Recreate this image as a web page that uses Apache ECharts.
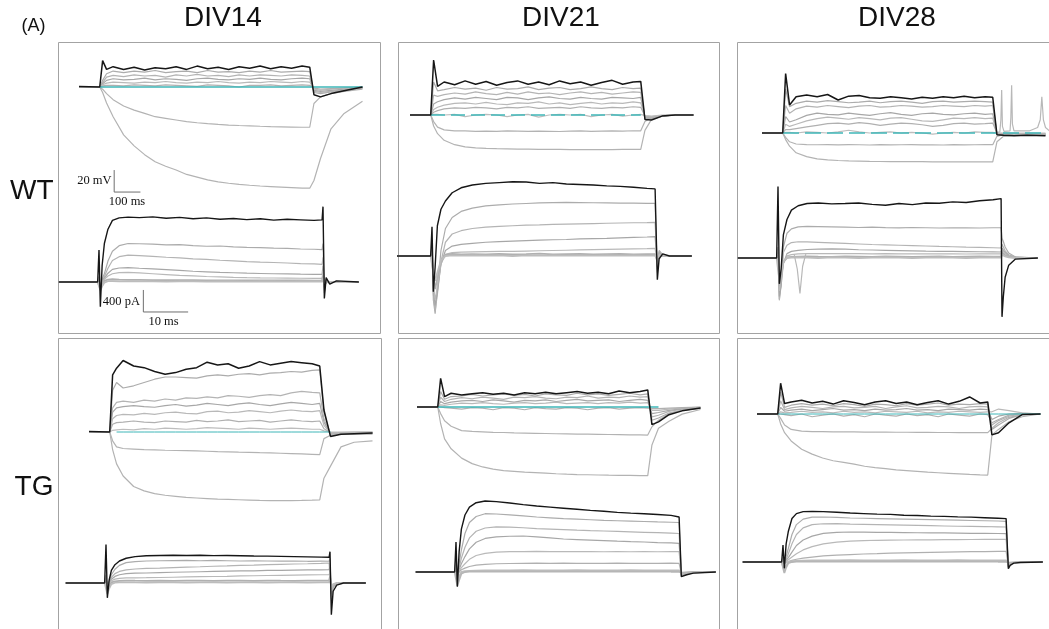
<!DOCTYPE html>
<html><head><meta charset="utf-8">
<script src="https://cdn.jsdelivr.net/npm/echarts@6/dist/echarts.min.js"></script>
<style>html,body{margin:0;padding:0;background:#fff}#c{width:1049px;height:629px}</style>
</head><body><div id="c"></div>
<script>
// ---------- time bases ----------
const V_TIME_MS = [-80,-1,0, 10,25,50,90,130,170,210,250,290,330,370,410,450,490,530,570,610,650,690,730,770,799,800, 815,840,880,930,1000];
const I_TIME_MS = [-9,-0.3,0, 0.3,0.7,1.2,2,3,4.5,6.5,9,12,15,18,21,24,27,30,33,36,39,42,45,48,49.8, 50,50.3,50.7,51.5,53,58];

// ---------- labels ----------
const COLUMN_LABELS = ['DIV14','DIV21','DIV28'];
const ROW_LABELS = ['WT','TG'];
const PANEL_LABEL = '(A)';
const SCALE_V = [20, 100];   // mV, ms
const SCALE_I = [400, 10];   // pA, ms

// ---------- WT DIV14 (mV relative to rest) ----------
const WT14_V_BLACK = [0.5,0,0, 24,16,18.5,16,18,15.5,17.5,16.5,18.5,16,19,16.5,18,16,18.5,17,19,16.5,18.5,17,19,18,18, -7,-9,-6,-3.5,0];
const WT14_V_GREY = [
 [0,0,0, 6,12,14.5,13,14.5,13.5,15,13,14,14.5,13,15,13.5,14,13,14.5,13.5,15,13.5,14,14.5,14,14, -5,-6,-4.5,-3,-1],
 [0,0,0, 4,9,10.5,9.5,11,10,10.5,9,11,10,11.5,10,10.5,9.5,11,10,11,10.5,10,11,10.5,10,10, -4,-5,-4,-2.5,-1],
 [0,0,0, 3,6,7.5,6.5,7,8,6.5,7.5,7,6,7.5,8,7,6.5,7.5,7,8,7,6.5,7.5,8,7.5,7.5, -3,-4,-3,-2,-0.5],
 [0,0,0, 2,3.5,4.5,4,3.5,4.5,4,5,4,3.5,4.5,4,5,4,3.5,4.5,4,5,4.5,4,5,4.5,4.5, -2,-3,-2,-1,0],
 [0,0,0, 1,1.5,1.5,1,2,1.5,1,2,1.5,1,0.5,2,1.5,1,0,1.5,1.5,2,1,1.5,2,1.5,1.5, -1,-2,-1.5,-1,0]
];
const WT14_V_HYP = [
 [0,0,0, -2,-6,-11.5,-17.3,-21,-24,-27,-28.5,-30,-31.5,-32.5,-33.3,-34,-34.6,-35,-35.3,-35.7,-36,-36.2,-36.4,-36.6,-36.6,-36.6, -15,-9,-6,-4,-2],
 [0,0,0, -5,-14.5,-27,-43.5,-53.5,-61.5,-68,-72,-75.5,-79.5,-82,-84.5,-86.2,-87.5,-88.5,-89.3,-90,-90.5,-91,-91.5,-92,-92,-92, -85,-65,-38,-24,-13]
];
const WT14_V_CYAN = [null,null,0, 0,0,0,0,0,0,0,0,0,0,0,0,0,0,0,0,0,0,0,0,0,0,0, 0,0,0,0,0];
const WT14_I_BLACK = [0,0,580, -450,300,700,960,1120,1165,1180,1170,1185,1160,1175,1150,1165,1140,1155,1135,1150,1125,1140,1130,1120,1130, 1370,-300,80,-40,20,0];
const WT14_I_GREY = [
 [0,0,100, -150,50,150,380,560,660,700,695,690,675,680,660,650,655,640,630,625,615,610,600,595,590, 700,-200,50,-20,10,0],
 [0,0,80, -120,30,100,250,390,460,490,480,465,450,440,420,410,395,385,370,360,355,345,335,330,322, 450,-150,30,-10,5,0],
 [0,0,60, -100,20,70,160,230,255,260,250,240,225,210,195,185,175,168,160,155,150,147,143,140,140, 300,-120,20,-10,0,0],
 [0,0,40, -80,10,50,110,150,170,175,165,150,135,120,110,100,92,85,80,76,73,70,68,67,67, 200,-100,10,-5,0,0],
 [0,0,20, -120,-60,20,45,50,45,40,38,35,35,33,32,30,30,28,30,28,27,28,27,26,26, 100,-80,0,0,0,0],
 [0,0,10, -150,-80,-10,15,15,12,10,12,10,8,12,10,8,10,9,8,10,9,8,10,9,9, 60,-60,0,0,0,0]
];

// ---------- WT DIV21 ----------
const WT21_V_BLACK = [0,0,0, 50,26,30,27.5,31,28,30.5,27,29.5,31,28,30,27.5,31,28.5,30,27,29.5,31.5,28,30,30.5,30.5, -4,-4.5,-1,0,0];
const WT21_V_GREY = [
 [0,0,0, 30,22,23,25,23.5,24.5,22.5,25,23.5,24,25.5,23,24.5,25,23,24,25.5,24,23,25,24,24.5,24.5, -3,-3.5,-1,0,0],
 [0,0,0, 18,17,18.5,20,19,21,19.5,18.5,20.5,19,21,19.5,20,18.5,20,21,19.5,20.5,19,20,21,20.5,20.5, -2.5,-3,-1,0,0],
 [0,0,0, 10,12,14,15.5,14.5,16,15,14,16,15.5,14,15.5,16.5,15,14.5,16,15,14.5,16,15.5,15,16,16, -2,-2.5,-1,0,0],
 [0,0,0, 5,7,9,10.5,11,10,11.5,10,9.5,11,10.5,12,10,11,9.5,10.5,11.5,10,11,10.5,12,11,11, -1.5,-2,-0.5,0,0],
 [0,0,0, 2.5,4,5.5,6.5,6,7,6.5,5.5,7,6.5,7.5,6,6.5,7,6,7.5,6.5,6,7,6.5,7.5,7,7, -1,-1.5,-0.5,0,0],
 [0,0,0, 0.5,0.5,0,0.5,-1.5,0,0.5,0,-1.5,0,0.5,-2,0,0.5,0,0.5,-1.5,0,0.5,-1,0,0.5,0.5, -0.5,-1,0,0,0]
];
const WT21_V_HYP = [
 [0,0,0, -6,-11,-13.5,-14.5,-14.5,-14.8,-14.6,-14.8,-14.5,-14.7,-14.9,-14.6,-14.8,-15,-14.7,-14.5,-14.8,-14.6,-14.4,-14.6,-14.3,-14.4,-14.4, -6,-2,-0.5,0,0],
 [0,0,0, -10,-17,-23,-27,-29,-29.8,-30.3,-30.6,-30.8,-31,-31.1,-31.2,-31.3,-31.3,-31.4,-31.4,-31.4,-31.5,-31.4,-31.3,-31.2,-31.2,-31.2, -14,-4,-1,0,0]
];
const WT21_V_CYAN = [null,null,0, 0,0,0,0,0,0,0,0,0,0,0,0,0,0,0,0,0,0,0,0,0,0,0, null,null,null,null,null];
const WT21_I_BLACK = [0,0,530, -650,-200,550,850,1000,1150,1240,1290,1320,1335,1350,1345,1320,1335,1310,1300,1290,1275,1265,1250,1230,1220, 1220,-430,-50,40,0,0];
const WT21_I_GREY = [
 [0,0,200, -800,-1050,-600,100,500,700,810,870,910,930,945,955,965,970,975,972,968,965,962,960,958,956, 956,-300,100,20,0,0],
 [0,0,150, -700,-1000,-700,-100,250,400,460,500,525,540,550,560,565,575,580,585,590,595,600,605,608,611, 611,-250,80,15,0,0],
 [0,0,100, -600,-900,-650,-150,100,180,210,230,250,260,270,280,290,295,300,310,315,320,330,340,345,351, 351,-200,60,10,0,0],
 [0,0,80, -500,-800,-550,-150,30,60,70,75,80,85,85,90,95,100,105,110,115,120,125,130,135,140, 140,-150,40,5,0,0],
 [0,0,50, -400,-600,-400,-100,20,40,30,35,30,40,30,35,45,30,35,40,30,35,40,30,35,35, 35,-100,30,0,0,0],
 [0,0,30, -300,-450,-300,-80,0,10,5,10,5,10,0,10,5,10,5,10,5,10,5,10,5,10, 10,-60,20,0,0,0]
];

// ---------- WT DIV28 ----------
const WT28_V_BLACK = [0,0,0, 54,25.5,33,34.5,33,35,30,33.5,34,32,31.5,33,32,31,32.5,31.5,33,32,33.5,32,33,32.5,32.5, -1.5,-2,-2.5,-2,-2.5];
const WT28_V_GREY = [
 [0,0,0, 40,24,27,29,28,29.5,28.5,27.5,28,29,27.5,28.5,29,28,27,28.5,29,28,28.5,29,28.5,28,28, -1,-1.5,-1.5,-1.5,-2],
 [0,0,0, 25,18,22,24.5,23.5,25,24,23,24.5,25,23.5,24,25,24.5,23.5,24,25,24.5,24,25,24.5,25,25, -1,-1.5,-1,-1.5,-1.5],
 [0,0,0, 15,10,12,16,18,17,16.5,18,17,16,17.5,18.5,17,16,17.5,18,17,16.5,17.5,18,17,17.5,17.5, -1,-1,-1,-1,-1],
 [0,0,0, 8,6,8,11,13,14.5,13.5,12.5,14,13,12,13.5,14,12.5,11,10.5,12,13.5,13,14,13,13.5,13.5, -0.5,-1,-1,-1,-1],
 [0,0,0, 3,3,4,5.5,7,8.5,9,8,9.5,8.5,7,8,9,8.5,7.5,6,7,8.5,9,8,8.5,9,9, 0,-0.5,-0.5,-0.5,-0.5],
 [0,0,0, 0.5,0.5,0,1,0.5,0,1,2.5,1,0,0.5,1,0,0.5,0,-1,0,0.5,0,1,0.5,0.5,0.5, 0,0,0,0,0]
];
const WT28_V_HYP = [
 [0,0,0, -4,-8,-10,-10.5,-10.7,-10.6,-10.8,-10.6,-10.7,-10.9,-10.6,-10.8,-10.7,-10.5,-10.8,-10.7,-10.9,-10.6,-10.8,-10.7,-10.5,-10.6,-10.6, -3,-1.5,-1.5,-1.5,-1.5],
 [0,0,0, -6,-12,-18,-21.5,-23.5,-24.5,-25,-25.4,-25.6,-25.8,-25.9,-26,-26,-26.1,-26.1,-26.2,-26.2,-26.2,-26.3,-26.3,-26.3,-26.3,-26.3, -8,-3,-2,-1.5,-1.5]
];
const WT28_V_CYAN = [null,null,0, 0,0,0,0,0,0,0,0,0,0,0,0,0,0,0,0,0,0,0,0,0,0,0, 0,0,0,0,0];
const WT28_V_SPIKES_T = [800,826,830,833,836,842,865,868,871,874,880,940,970,980,986,992,1000,1015];
const WT28_V_SPIKES = [0,1,12,39,6,1.5,2,14,43.5,8,2,2,5,12,33,12,5,2];
const WT28_I_BLACK = [0,0,1300, -470,-200,420,700,870,950,990,1000,985,990,1000,975,960,990,970,1000,995,1020,1010,1040,1060,1080, -1070,-700,-350,-130,-20,0];
const WT28_I_GREY = [
 [0,0,200, -750,-500,200,450,530,565,575,570,565,560,555,560,552,548,555,550,545,550,548,545,550,550, 360,300,200,90,20,0],
 [0,0,150, -770,-400,100,230,280,295,293,285,275,265,255,245,240,232,225,218,210,205,198,192,186,182, 250,200,130,60,15,0],
 [0,0,100, -700,-500,-100,80,120,140,155,160,165,160,150,145,140,135,130,125,122,120,117,114,111,109, 180,150,100,40,10,0],
 [0,0,80, -600,-400,-100,40,60,75,80,82,80,78,80,76,78,75,77,74,76,75,73,75,74,74, 150,120,80,30,5,0],
 [0,0,50, -500,-300,-80,10,20,25,30,25,20,30,25,20,30,25,20,25,30,20,25,30,25,25, 100,80,50,20,5,0],
 [0,0,30, -400,-250,-60,0,5,10,5,0,10,5,0,5,10,5,0,5,10,5,0,5,10,5, 60,50,30,10,0,0]
];
const WT28_I_SPIKE_T = [3.6,4.3,4.9,5.5,6.2];
const WT28_I_SPIKE = [70,-200,-645,-150,70];

// ---------- TG DIV14 ----------
const TG14_V_BLACK = [0.5,0,0, 52,58,65,60,58.5,55,52.5,54,57,58.5,63.5,61,62,58,60,64,61,62.5,64,63,62,60,60, 20,-4,-2,-1.5,-1];
const TG14_V_GREY = [
 [0,0,0, 38,45,40,42,45,48,50,50,49.5,49,51,52,51,52.5,53,52,53.5,54,55,54.5,56,56.5,56.5, 18,-3,-2,-1.5,-1],
 [0,0,0, 22,27,28,27,29,28,30,29,31,30.5,32,31,33,32.5,31.5,33,34,33,35.5,37,36,35.5,35.5, 12,-2,-1.5,-1,-1],
 [0,0,0, 18,22,23,24,23,22.5,24,25,23.5,24.5,26,25,24,25.5,26.5,25,24,25.5,27,26,25,26,26, 9,-1.5,-1,-1,-1],
 [0,0,0, 12,15,16,15.5,17,16,17.5,18,17,16.5,18.5,19,17.5,18,19.5,18.5,17.5,19,20,19,18.5,19.5,19.5, 6,-1,-1,-0.5,-0.5],
 [0,0,0, 7,8.5,9,10,9,8.5,10,9.5,9,10.5,9.5,10,11,9.5,10,10.5,9,10,11,10,9.5,10,10, 3,-0.5,-0.5,0,0],
 [0,0,0, 1.5,2,2.5,2,3,2.5,3.5,3,2.5,3,4,3.5,3,2.5,3.5,3,2.5,3,3.5,3,2.5,2.5,2.5, 1,0,0,0,0]
];
const TG14_V_HYP = [
 [0,0,0, -8,-13.5,-15,-15.5,-16,-16.3,-16.6,-16.8,-17,-17.2,-17.5,-17.8,-18,-18.3,-18.5,-18.8,-19,-19.3,-19.6,-19.9,-20.3,-20.6,-20.6, -6,-3,-2,-2,-2],
 [0,0,0, -16,-29,-40,-49.5,-53.5,-56,-57.5,-58.5,-59.5,-60,-60.5,-61,-61.3,-61.6,-61.9,-62.2,-62.4,-62.4,-62.3,-62.2,-62,-61.8,-61.8, -42,-31,-13.5,-9.3,-8]
];
const TG14_V_CYAN = [null,null,null, null,0,0,0,0,0,0,0,0,0,0,0,0,0,0,0,0,0,0,0,0,0,0, 0,0,null,null,null];
const TG14_I_BLACK = [0,0,700, -270,50,230,333,400,450,480,495,500,505,500,505,498,500,495,490,488,485,480,475,470,467, 570,-575,-150,-40,0,0];
const TG14_I_GREY = [
 [0,0,150, -100,30,150,250,320,370,390,400,405,408,410,405,410,405,400,405,400,398,400,395,398,395, 450,-300,-80,-20,0,0],
 [0,0,100, -80,20,100,170,210,240,255,265,270,280,290,295,305,310,320,325,335,340,345,350,358,364, 400,-250,-60,-15,0,0],
 [0,0,80, -60,10,70,120,150,170,178,182,188,195,200,205,210,215,220,222,228,230,235,238,240,242, 300,-200,-50,-10,0,0],
 [0,0,60, -50,0,40,70,85,92,94,96,100,105,110,115,118,122,128,132,136,140,144,147,150,152, 200,-150,-40,-10,0,0],
 [0,0,40, -150,-60,10,30,40,45,42,40,45,40,42,45,40,44,42,40,45,42,40,44,42,42, 120,-100,-30,0,0,0],
 [0,0,20, -200,-100,-20,5,10,12,10,8,12,10,8,12,10,8,12,10,8,12,10,8,12,10, 80,-80,-20,0,0,0]
];

// ---------- TG DIV21 ----------
const TG21_V_BLACK = [0,0,0, 26,9.5,12.5,11,12,13,11.5,12.5,11,13,12,13.5,12,13,14,12.5,13.5,12,14.5,13,14,15.5,15.5, -16,-13.5,-7,-3.5,-1];
const TG21_V_GREY = [
 [0,0,0, 14,7,9.5,10,11.5,10,11,12,10.5,11.5,10,12,11,10.5,12.5,11,12,10.5,11.5,12.5,11,12,12, -12,-10,-5.5,-3,-1],
 [0,0,0, 9,5,7,8.5,7.5,9,8,7,9,8.5,9.5,8,7.5,9,8.5,10,8,9,8.5,10,9,9.5,9.5, -9,-7.5,-4,-2,-0.5],
 [0,0,0, 5,3,4.5,5.5,6,5,6.5,5.5,4.5,6,5.5,6.5,5,6,7,5.5,6,6.5,5,6,7,6,6, -6,-5,-3,-1.5,-0.5],
 [0,0,0, 2,1.5,2.5,3.5,3,4,3,2.5,3.5,4,3,3.5,4.5,3,3.5,4,3,4,3.5,4.5,3.5,4,4, -3,-3,-2,-1,0],
 [0,0,0, 0,-0.5,-1,-2,-0.5,-1,-2.5,-0.5,-1,-2.5,-0.5,-1.5,-2,-0.5,-1,-2.5,-1,-0.5,-2,-1,-0.5,-1,-1, -1.5,-1.5,-1,-0.5,0]
];
const TG21_V_HYP = [
 [0,0,0, -6,-12.5,-17.5,-21.5,-22.2,-22.6,-23,-23.2,-23.5,-23.7,-23.9,-24.1,-24.3,-24.4,-24.6,-24.7,-24.8,-25,-25.1,-25.3,-25.4,-25.5,-25.5, -18,-12,-6,-3,-1],
 [0,0,0, -15,-29,-38,-46.5,-51.5,-54.5,-56.5,-57.8,-58.5,-59.2,-59.7,-60.2,-60.7,-61.1,-61.4,-61.6,-61.8,-62,-62.1,-62.2,-62.3,-62.4,-62.4, -34.5,-19.4,-13,-6.5,-2.3]
];
const TG21_V_CYAN = [null,null,0, 0,0,0,0,0,0,0,0,0,0,0,0,0,0,0,0,0,0,0,0,0,0,0, 0,0,null,null,null];
const TG21_I_BLACK = [0,0,545, -267,370,780,1036,1180,1260,1290,1280,1255,1225,1200,1180,1160,1140,1120,1105,1085,1070,1060,1045,1030,1000, 1000,-85,-80,-50,-20,0];
const TG21_I_GREY = [
 [0,0,300, -200,150,400,700,900,1010,1060,1055,1040,1020,1000,985,970,960,950,940,932,925,918,910,905,900, 900,-70,-60,-40,-15,0],
 [0,0,200, -150,80,250,450,620,740,800,820,815,805,790,780,770,760,752,745,738,730,722,715,708,700, 700,-60,-50,-30,-10,0],
 [0,0,150, -120,50,150,280,420,540,610,640,650,655,640,620,600,590,580,570,560,552,545,535,528,520, 520,-50,-40,-25,-10,0],
 [0,0,100, -100,20,80,150,230,300,340,360,370,372,375,372,370,372,370,368,370,368,370,368,370,370, 370,-40,-30,-20,-5,0],
 [0,0,60, -80,0,40,70,100,125,140,150,155,158,160,158,160,158,157,158,160,158,157,158,160,158, 158,-30,-25,-15,0,0],
 [0,0,40, -200,-80,0,15,20,25,30,28,30,32,30,28,30,32,30,28,30,32,30,28,30,30, 30,-20,-20,-10,0,0],
 [0,0,20, -250,-150,-30,0,5,8,5,8,5,8,5,8,5,8,5,8,5,8,5,8,5,5, 5,-10,-10,-5,0,0]
];

// ---------- TG DIV28 ----------
const TG28_V_BLACK = [0,0,0, 28,9.5,11,12.5,10,11.5,9,12,10.5,8.5,11,12,9.5,11,8.5,10.5,12,9,11.5,15.5,10,11,11, -19,-17,-8,-0.5,0];
const TG28_V_GREY = [
 [0,0,0, 20,6,8,9.5,8,9,7.5,9.5,8.5,7,9,8.5,7.5,9.5,8,9,10,8,9,8.5,9.5,9,9, -14,-10,-4,-0.5,0],
 [0,0,0, 12,4,5.5,7,6,5,6.5,7,5.5,6,7,5,6.5,7.5,5.5,6,7,6.5,5,6.5,7,6.5,6.5, -10,-6,-2,0,0],
 [0,0,0, 6,2.5,3.5,4.5,3,4,5,3.5,4,3,4.5,3.5,4,5,3.5,4,3,4.5,4,3.5,4.5,4,4, -5,-2,0,0.5,0],
 [0,0,0, 2,1,1.5,2.5,1.5,2,1,2.5,1.5,2,1,2.5,2,1.5,2.5,1,2,1.5,2.5,2,1.5,2,2, 2,4.5,3,1,0],
 [0,0,0, 0,-0.5,-1.5,0,-2.5,-1,0,-2,-0.5,-2.5,0,-1,-2,0,-1.5,-0.5,-2.5,0,-1,-2,0,-0.5,-0.5, -8,-5,-1,0,0]
];
const TG28_V_HYP = [
 [0,0,0, -4,-10,-14,-15.5,-16,-16.1,-16.2,-16.3,-16.3,-16.4,-16.5,-16.5,-16.6,-16.6,-16.7,-16.7,-16.8,-16.8,-16.9,-16.9,-17,-17,-17, -13,-8,-3,-0.5,0],
 [0,0,0, -9,-17,-24.5,-32,-36.5,-40,-42.5,-44,-45.5,-47.5,-48.7,-49.7,-50.8,-51.5,-52.2,-52.9,-53.4,-53.9,-54.4,-54.9,-55.3,-55.5,-55.5, -19,-14,-7,-2.5,0]
];
const TG28_V_CYAN = [null,null,0, 0,0,0,0,0,0,0,0,0,0,0,0,0,0,0,0,0,0,0,0,0,0,0, 0,0,0,0,0];
const TG28_I_BLACK = [0,0,310, -115,330,560,790,880,915,921,915,905,890,880,870,865,850,845,835,830,820,815,805,795,789, 789,-120,-60,-20,-10,0];
const TG28_I_GREY = [
 [0,0,100, -50,100,250,500,680,780,815,818,810,800,795,790,785,780,775,770,765,760,755,750,745,740, 740,-100,-50,-15,-5,0],
 [0,0,80, -40,50,150,330,500,620,680,695,697,690,685,680,675,670,665,660,655,650,648,645,640,636, 636,-90,-45,-15,-5,0],
 [0,0,60, -30,30,80,180,300,400,470,520,540,545,543,540,538,535,532,530,528,525,522,520,518,515, 515,-80,-40,-10,0,0],
 [0,0,40, -30,10,40,90,150,220,280,330,360,380,390,395,398,400,402,404,406,408,409,410,411,412, 412,-70,-35,-10,0,0],
 [0,0,20, -20,0,10,30,50,70,90,110,125,135,145,152,160,165,170,175,180,184,187,190,192,194, 194,-60,-30,-10,0,0],
 [0,0,30, -150,-60,0,15,20,25,30,28,30,32,30,28,30,32,30,28,30,32,30,28,30,30, 30,-20,-20,-10,0,0],
 [0,0,15, -200,-100,-20,0,5,8,5,8,5,8,5,8,5,8,5,8,5,8,5,8,5,5, 5,-10,-10,-5,0,0]
];

// ---------- layout (pixels) ----------
const KV = {kx: 0.2625, ky: 1.1};   // px per ms, px per mV
const KI = {kx: 4.48, ky: 0.055};   // px per ms, px per pA
const PANELS = [
 {box:[58,42,380,333],  vO:[100,87],  iO:[99,282],  cyan:'solid', cw:1.6, vb:WT14_V_BLACK, vg:WT14_V_GREY, vh:WT14_V_HYP, vc:WT14_V_CYAN, ib:WT14_I_BLACK, ig:WT14_I_GREY},
 {box:[398,42,719,333], vO:[431,115], iO:[432,256], cyan:[14,6],  cw:1.6, vb:WT21_V_BLACK, vg:WT21_V_GREY, vh:WT21_V_HYP, vc:WT21_V_CYAN, ib:WT21_I_BLACK, ig:WT21_I_GREY},
 {box:[737,42,1049,333],vO:[783,133], iO:[778,258], cyan:[16,6],  cw:1.6, vb:WT28_V_BLACK, vg:WT28_V_GREY, vh:WT28_V_HYP, vc:WT28_V_CYAN, ib:WT28_I_BLACK, ig:WT28_I_GREY},
 {box:[58,338,381,629], vO:[110,432], iO:[106,583], cyan:'solid', cw:1.0, vb:TG14_V_BLACK, vg:TG14_V_GREY, vh:TG14_V_HYP, vc:TG14_V_CYAN, ib:TG14_I_BLACK, ig:TG14_I_GREY},
 {box:[398,338,719,629],vO:[438,407], iO:[456,572], cyan:'solid', cw:1.5, vb:TG21_V_BLACK, vg:TG21_V_GREY, vh:TG21_V_HYP, vc:TG21_V_CYAN, ib:TG21_I_BLACK, ig:TG21_I_GREY},
 {box:[737,338,1049,629],vO:[778,414],iO:[783,562], cyan:'solid', cw:1.0, vb:TG28_V_BLACK, vg:TG28_V_GREY, vh:TG28_V_HYP, vc:TG28_V_CYAN, ib:TG28_I_BLACK, ig:TG28_I_GREY}
];
const GREYS = ['#acacac','#b4b4b4','#a7a7a7','#b9b9b9','#b0b0b0','#bdbdbd','#b6b6b6'];
const BLACK = '#161616', CYAN = '#3fb6b8';

const grid = [], xAxis = [], yAxis = [], series = [];
function addGrid(box, o, k) {
  const [l,t,r,b] = box, [x0,y0] = o;
  grid.push({left:l, top:t, width:r-l, height:b-t, show:false, containLabel:false});
  const i = grid.length - 1;
  xAxis.push({type:'value', gridIndex:i, min:(l-x0)/k.kx, max:(r-x0)/k.kx, show:false, splitLine:{show:false}});
  yAxis.push({type:'value', gridIndex:i, min:(y0-b)/k.ky, max:(y0-t)/k.ky, show:false, splitLine:{show:false}});
  return i;
}
function pairs(ts, vs) {
  const out = [];
  for (let i = 0; i < Math.min(ts.length, vs.length); i++) if (vs[i] !== null) out.push([ts[i], vs[i]]);
  return out;
}
function line(i, data, color, width, type) {
  series.push({type:'line', xAxisIndex:i, yAxisIndex:i, data, symbol:'none', showSymbol:false, silent:true,
    animation:false, clip:true, emphasis:{disabled:true}, lineStyle:{color, width, type: type || 'solid'}});
}

PANELS.forEach((p, n) => {
  const vi = addGrid(p.box, p.vO, KV);
  const ii = addGrid(p.box, p.iO, KI);
  p.vh.forEach(tr => line(vi, pairs(V_TIME_MS, tr), '#b3b3b3', 1.2));
  p.vg.forEach((tr, k) => line(vi, pairs(V_TIME_MS, tr), GREYS[k % GREYS.length], 1.2));
  if (n === 2) line(vi, pairs(WT28_V_SPIKES_T, WT28_V_SPIKES), '#b8b8b8', 1.2);
  line(vi, pairs(V_TIME_MS, p.vc), CYAN, p.cw, p.cyan);
  line(vi, pairs(V_TIME_MS, p.vb), BLACK, 1.5);
  p.ig.forEach((tr, k) => line(ii, pairs(I_TIME_MS, tr), GREYS[k % GREYS.length], k >= p.ig.length - 2 ? 1.8 : 1.2));
  if (n === 2) line(ii, pairs(WT28_I_SPIKE_T, WT28_I_SPIKE), '#b8b8b8', 1.2);
  line(ii, pairs(I_TIME_MS, p.ib), BLACK, 1.4);
  if (n === 0) {
    const [tv, vv] = [54, -75.5];
    line(vi, [[tv, vv], [tv, vv - SCALE_V[0]], [tv + SCALE_V[1], vv - SCALE_V[0]]], '#6e6e6e', 1);
    const [ti, iv] = [9.9, -145];
    line(ii, [[ti, iv], [ti, iv - SCALE_I[0]], [ti + SCALE_I[1], iv - SCALE_I[0]]], '#6e6e6e', 1);
  }
});

const SANS = '"Liberation Sans", Arial, Helvetica, sans-serif';
const SERIF = '"Liberation Serif", "Times New Roman", serif';
function txt(text, x, y, size, family, align) {
  return {type:'text', silent:true, z:10, style:{text, x, y, fill:'#111', font: size + 'px ' + family,
    textAlign: align, align: align, textVerticalAlign:'middle', verticalAlign:'middle'}};
}
const graphic = [];
PANELS.forEach(p => {
  const [l,t,r,b] = p.box;
  graphic.push({type:'rect', silent:true, z:0, shape:{x:l+0.5, y:t+0.5, width:r-l, height:b-t},
    style:{fill:'transparent', stroke:'#a3a3a3', lineWidth:1}});
});
graphic.push(txt(PANEL_LABEL, 21.5, 26, 18, SANS, 'left'));
[223, 561, 897].forEach((x, k) => graphic.push(txt(COLUMN_LABELS[k], x, 18.5, 28, SANS, 'center')));
[191.5, 487].forEach((y, k) => graphic.push(txt(ROW_LABELS[k], 53.5, y, 28, SANS, 'right')));
graphic.push(txt(SCALE_V[0] + ' mV', 111.5, 181, 12.5, SERIF, 'right'));
graphic.push(txt(SCALE_V[1] + ' ms', 127, 202, 12.5, SERIF, 'center'));
graphic.push(txt(SCALE_I[0] + ' pA', 140, 301.5, 12.5, SERIF, 'right'));
graphic.push(txt(SCALE_I[1] + ' ms', 163.5, 321.5, 12.5, SERIF, 'center'));

const chart = echarts.init(document.getElementById('c'), null, {renderer:'canvas'});
chart.setOption({animation:false, backgroundColor:'#fff', grid, xAxis, yAxis, series, graphic});
</script></body></html>
